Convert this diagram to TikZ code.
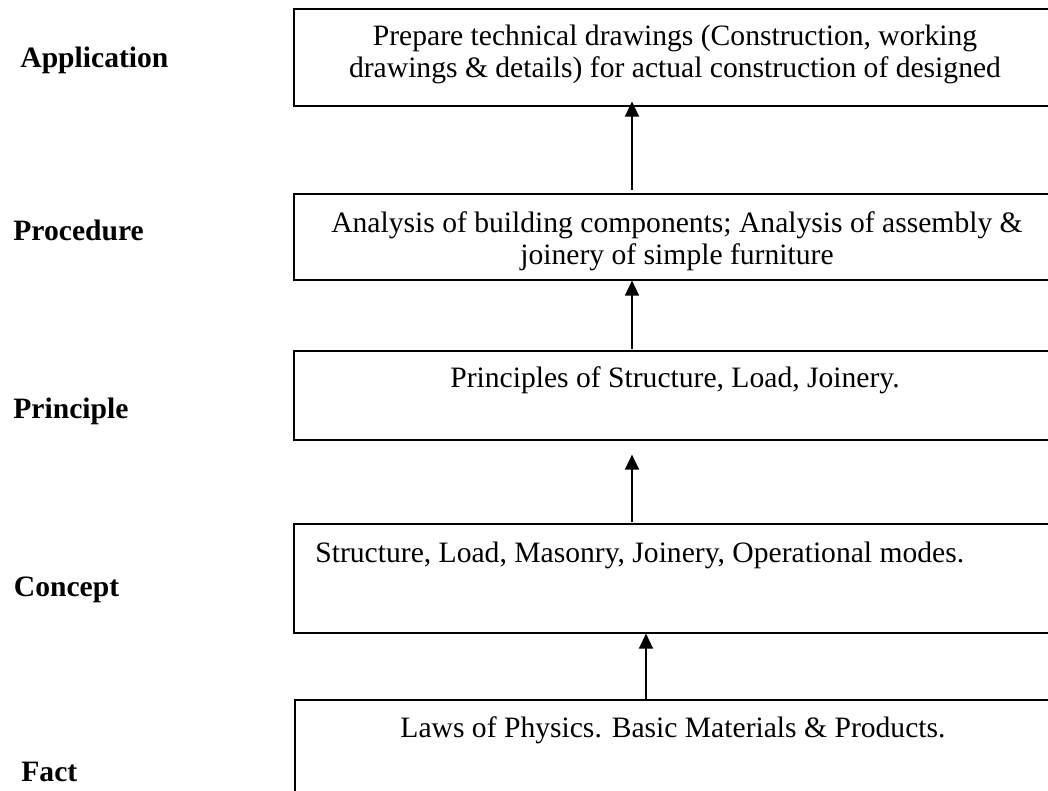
\documentclass[tikz,border=0pt]{standalone}
\usepackage{fontspec}
\setmainfont{Liberation Serif}
\usetikzlibrary{arrows.meta}
\begin{document}
\begin{tikzpicture}[x=0.5pt,y=-0.5pt,
  box/.style={draw, line width=0.8pt, rectangle, inner sep=0pt, anchor=north west, minimum width=382pt},
  lbl/.style={anchor=base west, inner sep=0pt, font=\bfseries\fontsize{14.8pt}{16pt}\selectfont},
  txt/.style={inner sep=0pt, font=\fontsize{14.8pt}{16pt}\selectfont, align=center},
  arr/.style={-{Triangle[length=7.5pt,width=7pt]}, line width=0.8pt}]
\useasboundingbox (0,0) rectangle (1048,791);
\clip (0,0) rectangle (1048,791);
\coordinate (ax) at (632,0);
\coordinate (ax2) at (646,0);
% boxes
\node[box, minimum height=48.5pt] (bApp) at (293,8) {};
\node[box, minimum height=43pt] (bProc) at (293,193) {};
\node[box, minimum height=44.5pt] (bPrin) at (293,350) {};
\node[box, minimum height=54.5pt] (bConc) at (293,523) {};
\node[box, minimum height=65pt] (bFact) at (294,699) {};
% box texts (multi-line nodes: base = last line)
\node[txt, anchor=base] (tApp) at (675,78) {Prepare technical drawings (Construction, working\\drawings \& details) for actual construction of designed};
\node[txt, anchor=base] (tProc) at (677,264) {Analysis of building components; Analysis of assembly \&\\joinery of simple furniture};
\node[txt, anchor=base] (tPrin) at (675,387) {Principles of Structure, Load, Joinery.};
\node[txt, anchor=base west] (tConc) at (315,562) {Structure, Load, Masonry, Joinery, Operational modes.};
\node[txt, anchor=base] (tFact) at (673,737) {Laws of Physics. Basic Materials \& Products.};
% left labels
\node[lbl] (lApp) at (20,68) {Application};
\node[lbl] (lProc) at (13,241) {Procedure};
\node[lbl] (lPrin) at (13,418) {Principle};
\node[lbl] (lConc) at (13.5,596) {Concept};
\node[lbl] (lFact) at (21,781) {Fact};
% arrows
\draw[arr, shorten <=1.5pt, shorten >=-2.5pt] (bProc.north -| ax) -- (bApp.south -| ax);
\draw[arr, shorten <=0.75pt] (bPrin.north -| ax) -- (bProc.south -| ax);
\draw[arr, shorten <=0.5pt, shorten >=7pt] (bConc.north -| ax) -- (bPrin.south -| ax);
\draw[arr, shorten <=-0.5pt] (bFact.north -| ax2) -- (bConc.south -| ax2);
\end{tikzpicture}
\end{document}
